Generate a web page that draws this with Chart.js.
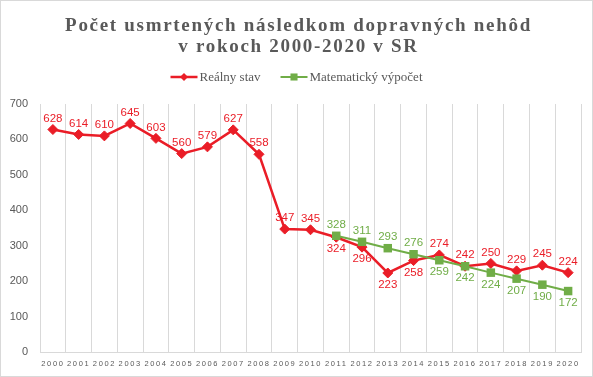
<!DOCTYPE html>
<html>
<head>
<meta charset="utf-8">
<script src="https://cdn.jsdelivr.net/npm/chart.js@4.4.0/dist/chart.umd.min.js"></script>
<style>
    html, body { margin: 0; padding: 0; background: #fff; }
    #wrap { width: 593px; height: 377px; box-sizing: border-box; border: 1px solid #d9d9d9; }
    canvas { display: block; }
</style>
</head>
<body>
<div id="wrap"><canvas id="chart" width="591" height="375"></canvas></div>
<script>
    // data
    var years = ['2000', '2001', '2002', '2003', '2004', '2005', '2006', '2007', '2008', '2009', '2010',
        '2011', '2012', '2013', '2014', '2015', '2016', '2017', '2018', '2019', '2020'];
    var realValues = [628, 614, 610, 645, 603, 560, 579, 627, 558, 347, 345,
        324, 296, 223, 258, 274, 242, 250, 229, 245, 224];
    var mathValues = [null, null, null, null, null, null, null, null, null, null, null,
        328, 311, 293, 276, 259, 242, 224, 207, 190, 172];
    var seriesNames = ['Reálny stav', 'Matematický výpočet'];
    var titleLines = ['Počet usmrtených následkom dopravných nehôd', 'v rokoch 2000-2020 v SR'];

    var RED = '#EA1D27';
    var GREEN = '#70AD47';
    var GREY = '#595959';

    //title + legend, drawn by hand to get the spaced serif look
    var headerPlugin = {
        id: 'header',
        afterDraw: function (chart) {
            var ctx = chart.ctx;
            ctx.save();
            ctx.fillStyle = GREY;
            ctx.textAlign = 'center';
            ctx.textBaseline = 'alphabetic';
            ctx.font = 'bold 19px "Liberation Serif"';
            ctx.letterSpacing = '1.7px';
            ctx.fillText(titleLines[0], chart.width / 2 + 2, 30);
            ctx.fillText(titleLines[1], chart.width / 2 + 2, 51);

            ctx.letterSpacing = '0px';
            ctx.font = '13px "Liberation Serif"';
            ctx.textAlign = 'left';
            ctx.textBaseline = 'middle';
            var lineW = 27, gap = 2, itemGap = 20, y = 76;
            var sets = chart.data.datasets;
            var widths = sets.map(function (ds) {
                return lineW + gap + ctx.measureText(ds.label).width;
            });
            var total = widths.reduce(function (a, b) { return a + b; }, 0) + itemGap * (sets.length - 1);
            var x = chart.width / 2 - total / 2;
            sets.forEach(function (ds, i) {
                ctx.strokeStyle = ds.borderColor;
                ctx.fillStyle = ds.borderColor;
                ctx.lineWidth = ds.borderWidth;
                ctx.beginPath();
                ctx.moveTo(x, y);
                ctx.lineTo(x + lineW, y);
                ctx.stroke();
                Chart.helpers.drawPoint(ctx, {
                    pointStyle: ds.pointStyle,
                    radius: ds.pointRadius - 1,
                    rotation: 0,
                    borderWidth: 0
                }, x + lineW / 2, y);
                ctx.fillStyle = GREY;
                ctx.fillText(ds.label, x + lineW + gap, y + 1);
                x += widths[i] + itemGap;
            });
            ctx.restore();
        }
    };

    //value labels above / below the markers
    var valueLabels = {
        id: 'valueLabels',
        afterDatasetsDraw: function (chart) {
            var ctx = chart.ctx;
            ctx.save();
            ctx.font = '11.5px "Liberation Sans"';
            ctx.textAlign = 'center';
            ctx.textBaseline = 'middle';
            chart.data.datasets.forEach(function (ds, di) {
                var other = chart.data.datasets[1 - di].data;
                chart.getDatasetMeta(di).data.forEach(function (pt, i) {
                    var v = ds.data[i];
                    if (v === null) return;
                    var o = other[i];
                    var below = o !== null && (di === 0 ? v < o : v <= o);
                    ctx.fillStyle = ds.borderColor;
                    ctx.fillText(String(v), pt.x, pt.y + (below ? 12 : -11));
                });
            });
            ctx.restore();
        }
    };

    //spaced out year labels
    var spacedTicks = {
        id: 'spacedTicks',
        afterUpdate: function (chart) {
            var sc = chart.scales.x;
            if (sc._spaced) return;
            var orig = sc.drawLabels;
            sc.drawLabels = function (area) {
                this.ctx.save();
                this.ctx.letterSpacing = '1.6px';
                orig.call(this, area);
                this.ctx.restore();
            };
            sc._spaced = true;
        }
    };

    new Chart(document.getElementById('chart'), {
        type: 'line',
        data: {
            labels: years,
            datasets: [{
                label: seriesNames[0],
                data: realValues,
                borderColor: RED,
                backgroundColor: RED,
                borderWidth: 2.5,
                pointStyle: 'rectRot',
                pointRadius: 5,
                pointBorderWidth: 1,
                pointBackgroundColor: RED,
                tension: 0,
                order: 1
            }, {
                label: seriesNames[1],
                data: mathValues,
                borderColor: GREEN,
                backgroundColor: GREEN,
                borderWidth: 2,
                pointStyle: 'rect',
                pointRadius: 6,
                pointBorderWidth: 0,
                pointBackgroundColor: GREEN,
                tension: 0,
                order: 0
            }]
        },
        options: {
            responsive: false,
            animation: false,
            devicePixelRatio: 1,
            layout: {
                padding: {top: 103, right: 11, left: 0, bottom: 0}
            },
            plugins: {
                legend: {display: false},
                title: {display: false},
                tooltip: {enabled: false}
            },
            scales: {
                x: {
                    offset: true,
                    grid: {offset: true, color: '#d9d9d9', drawTicks: false},
                    border: {display: true, color: '#d9d9d9'},
                    ticks: {
                        color: GREY,
                        font: {family: 'Liberation Sans', size: 7.5},
                        padding: 7,
                        autoSkip: false,
                        maxRotation: 0
                    },
                    afterFit: function (s) { s.height = 24; }
                },
                y: {
                    min: 0,
                    max: 700,
                    grid: {display: false, drawTicks: false},
                    border: {display: false},
                    ticks: {
                        stepSize: 100,
                        color: GREY,
                        font: {family: 'Liberation Sans', size: 11},
                        padding: 12
                    },
                    afterFit: function (s) { s.width = 39; }
                }
            }
        },
        plugins: [spacedTicks, valueLabels, headerPlugin]
    });
</script>
</body>
</html>
